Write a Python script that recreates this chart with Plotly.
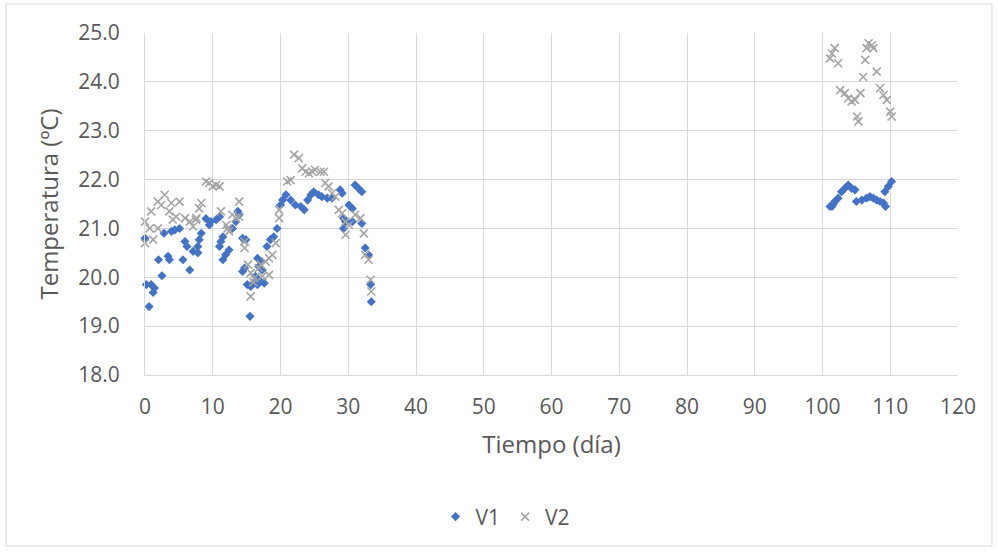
import plotly.graph_objects as go

# Sensor V1 readings: elapsed time (days) and temperature (ºC)
v1_dia = [
    0.0, 0.2, 0.6, 0.9, 1.2, 1.4, 2.0, 2.5, 2.8, 3.4, 3.6, 3.9, 4.4, 5.1, 5.6,
    5.9, 6.2, 6.6, 7.1, 7.8, 7.8, 8.0, 8.3, 9.0, 9.5, 9.7, 10.5, 11.0, 11.0,
    11.2, 11.5, 11.5, 11.9, 12.4, 12.9, 13.4, 13.7, 13.9, 14.4, 14.4, 14.7,
    14.9, 15.1, 15.5, 15.6, 16.1, 16.3, 16.6, 16.6, 16.8, 16.8, 17.1, 17.3,
    17.6, 18.0, 18.5, 19.0, 19.5, 20.0, 20.3, 20.8, 21.5, 22.2, 23.0, 23.5,
    24.0, 24.5, 24.9, 25.6, 26.1, 26.9, 27.6, 28.8, 29.1, 29.3, 29.6, 29.3,
    30.1, 30.6, 30.6, 31.0, 31.5, 32.0, 32.0, 32.5, 33.0, 33.3, 33.4,
    101.1, 101.4, 101.6, 101.8, 102.3, 102.8, 103.3, 103.8, 104.3, 104.8,
    105.0, 105.8, 106.5, 107.0, 107.5, 108.0, 108.5, 109.0, 109.3, 109.2,
    109.7, 110.2,
]
v1_temp = [
    20.80, 19.85, 19.40, 19.85, 19.69, 19.78, 20.36, 20.03, 20.90, 20.43, 20.36,
    20.94, 20.97, 21.00, 20.36, 20.73, 20.63, 20.15, 20.53, 20.50, 20.63, 20.77,
    20.90, 21.20, 21.07, 21.14, 21.18, 21.24, 20.63, 20.73, 20.83, 20.36, 20.46,
    20.56, 21.00, 21.14, 21.35, 21.28, 20.80, 20.12, 20.19, 20.77, 19.85, 19.20,
    19.81, 19.88, 20.02, 20.39, 19.85, 19.95, 20.22, 20.32, 20.15, 19.88, 20.63,
    20.77, 20.83, 21.00, 21.48, 21.58, 21.69, 21.58, 21.48, 21.45, 21.38, 21.58,
    21.69, 21.75, 21.69, 21.65, 21.62, 21.62, 21.79, 21.72, 21.21, 21.14, 21.00,
    21.48, 21.41, 21.14, 21.89, 21.82, 21.75, 21.10, 20.60, 20.46, 19.85, 19.50,
    21.45, 21.45, 21.50, 21.55, 21.62, 21.75, 21.82, 21.89, 21.82, 21.79,
    21.55, 21.58, 21.62, 21.65, 21.62, 21.58, 21.55, 21.52, 21.45, 21.75,
    21.86, 21.96,
]

# Sensor V2 readings
v2_dia = [
    0.0, 0.0, 0.7, 0.9, 1.2, 1.9, 1.9, 2.4, 2.9, 3.6, 3.9, 4.1, 4.6, 5.1, 5.9,
    6.6, 7.1, 7.5, 7.6, 8.0, 8.3, 9.0, 9.5, 10.0, 10.5, 11.0, 11.2, 12.0, 12.2,
    12.4, 12.9, 13.4, 13.9, 13.9, 14.7, 14.7, 15.2, 15.6, 15.6, 16.0, 16.1,
    16.8, 17.1, 17.3, 17.8, 18.3, 18.3, 18.8, 19.3, 19.8, 19.8, 21.0, 21.5,
    22.0, 22.7, 23.2, 23.7, 24.2, 24.7, 25.1, 25.9, 26.4, 26.6, 27.1, 27.6,
    28.1, 28.6, 29.1, 29.6, 29.6, 30.1, 31.0, 31.8, 32.3, 32.5, 33.0, 33.3,
    33.4,
    101.1, 101.4, 101.8, 102.3, 102.6, 103.3, 103.8, 104.3, 104.8, 105.1,
    105.3, 105.6, 106.0, 106.3, 106.5, 106.8, 107.3, 107.5, 108.0, 108.5,
    109.0, 109.5, 110.0, 110.2,
]
v2_temp = [
    20.70, 21.14, 21.00, 21.35, 20.77, 21.55, 21.00, 21.48, 21.69, 21.35, 21.52,
    21.18, 21.24, 21.55, 21.21, 21.14, 21.04, 21.18, 21.21, 21.41, 21.52, 21.96,
    21.93, 21.86, 21.89, 21.86, 21.35, 21.07, 21.00, 20.94, 21.28, 21.21, 21.24,
    21.55, 20.73, 20.60, 20.26, 19.61, 20.09, 19.90, 19.98, 20.19, 20.26, 20.02,
    20.32, 20.39, 20.05, 20.46, 20.70, 21.21, 21.38, 21.96, 21.99, 22.51, 22.44,
    22.23, 22.16, 22.13, 22.16, 22.20, 22.16, 22.16, 21.93, 21.86, 21.72, 21.65,
    21.38, 21.31, 21.14, 20.87, 21.07, 21.28, 21.21, 20.90, 20.46, 20.36, 19.95,
    19.71,
    24.48, 24.58, 24.69, 24.38, 23.83, 23.77, 23.66, 23.60, 23.63, 23.29,
    23.19, 23.77, 24.10, 24.45, 24.69, 24.79, 24.75, 24.69, 24.21, 23.87,
    23.73, 23.63, 23.39, 23.29,
]

x_ticks = list(range(0, 121, 10))
y_ticks = [18 + i for i in range(8)]
y_tick_labels = [f"{v:.1f}" for v in y_ticks]

TEXT = "#595959"
GRID = "#D9D9D9"
FONT = "Open Sans, Noto Sans, sans-serif"

fig = go.Figure()
fig.add_trace(go.Scatter(
    x=v1_dia, y=v1_temp, mode="markers", name="V1",
    marker=dict(symbol="diamond", size=7, color="#4472C4"),
    cliponaxis=False,
))
fig.add_trace(go.Scatter(
    x=v2_dia, y=v2_temp, mode="markers", name="V2",
    marker=dict(symbol="x-thin", size=8, color="#A5A5A5",
                line=dict(width=1.6, color="#A5A5A5")),
    cliponaxis=False,
))

fig.update_layout(
    width=998, height=553,
    margin=dict(l=145, r=40, t=33, b=178),
    paper_bgcolor="white", plot_bgcolor="white",
    font=dict(family=FONT, color=TEXT, size=21),
    showlegend=True,
    legend=dict(
        orientation="h", x=0.4435, xanchor="center", y=-0.415, yanchor="middle",
        font=dict(size=21, color=TEXT),
        bgcolor="rgba(0,0,0,0)",
    ),
    xaxis=dict(
        range=[0, 120], tickmode="array", tickvals=x_ticks,
        showgrid=True, gridcolor=GRID, gridwidth=1,
        showline=True, linecolor=GRID, linewidth=1, zeroline=False,
        ticks="", ticklabelstandoff=13,
        tickfont=dict(size=21, color=TEXT),
        title=dict(text="Tiempo (día)", font=dict(size=24, color=TEXT), standoff=16),
    ),
    yaxis=dict(
        range=[18, 25], tickmode="array", tickvals=y_ticks, ticktext=y_tick_labels,
        showgrid=True, gridcolor=GRID, gridwidth=1,
        showline=True, linecolor=GRID, linewidth=1, zeroline=False,
        ticks="", ticklabelstandoff=20,
        tickfont=dict(size=21, color=TEXT),
        title=dict(text="Temperatura (ºC)", font=dict(size=24, color=TEXT), standoff=12),
    ),
    shapes=[dict(
        type="rect", xref="paper", yref="paper",
        x0=-0.171, x1=1.0418, y0=-0.5, y1=1.0848,
        line=dict(color="#D9D9D9", width=1), fillcolor="rgba(0,0,0,0)", layer="below",
    )],
)

fig.write_html("out.html")
